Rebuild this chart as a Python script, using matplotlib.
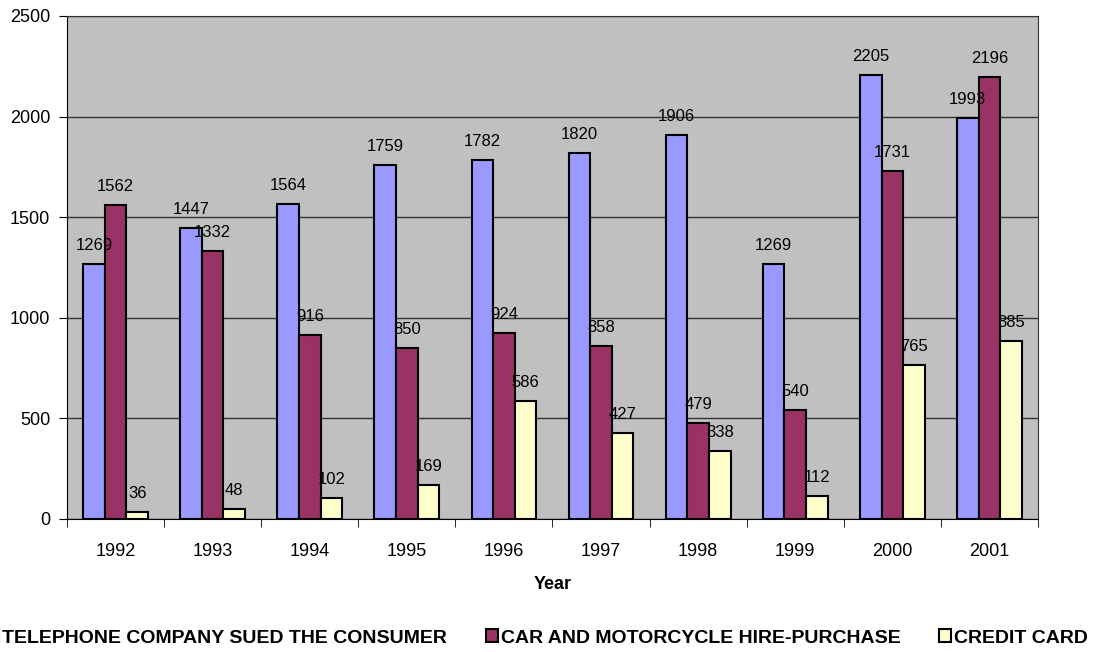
import matplotlib.pyplot as plt
import numpy as np

plt.rcParams['font.family'] = ['Liberation Sans', 'DejaVu Sans']

years = ['1992', '1993', '1994', '1995', '1996', '1997', '1998', '1999', '2000', '2001']
telefono = [1269, 1447, 1564, 1759, 1782, 1820, 1906, 1269, 2205, 1993]
auto_moto = [1562, 1332, 916, 850, 924, 858, 479, 540, 1731, 2196]
tarjeta = [36, 48, 102, 169, 586, 427, 338, 112, 765, 885]

series = [
    ('TELEPHONE COMPANY SUED THE CONSUMER', telefono, '#9999FF'),
    ('CAR AND MOTORCYCLE HIRE-PURCHASE', auto_moto, '#993366'),
    ('CREDIT CARD', tarjeta, '#FFFFCC'),
]

fig = plt.figure(figsize=(11.04, 6.52), dpi=100)
ax = fig.add_axes([0.0607, 0.204, 0.8795, 0.7715])
ax.set_facecolor('#C0C0C0')

x = np.arange(len(years))
w = 1 / 4.5

bars = []
for i, (nombre, vals, color) in enumerate(series):
    pos = x + (i - 1) * w
    b = ax.bar(pos, vals, w, color=color, edgecolor='black', linewidth=1.5,
               label=nombre, zorder=3)
    bars.append(b)
    # etiquetas encima de cada barra
    for px, v in zip(pos, vals):
        ax.text(px, v + 55, str(v), ha='center', va='bottom', fontsize=12, zorder=4)

ax.set_xlim(-0.5, len(years) - 0.5)
ax.set_ylim(0, 2500)
ax.set_yticks(range(0, 2501, 500))
ax.yaxis.grid(True, color='#333333', linewidth=1, zorder=1)
ax.set_xticks(x)
ax.set_xticklabels(years, fontsize=13)
ax.set_xticks(np.arange(-0.5, len(years)), minor=True)
ax.tick_params(axis='x', which='major', length=0, pad=17)
ax.tick_params(axis='x', which='minor', length=6, direction='out', color='black')
ax.tick_params(axis='y', labelsize=13, length=6, direction='out', pad=6)
for s in ax.spines.values():
    s.set_color('#333333')
ax.spines['left'].set_color('black')
ax.spines['bottom'].set_color('black')
ax.set_xlabel('Year', fontsize=13, fontweight='bold', labelpad=12)

fig.legend(handles=bars, loc='center left', bbox_to_anchor=(-0.0115, 0.0215),
           ncol=3, frameon=False, prop={'weight': 'bold', 'size': 14},
           handlelength=0.62, handleheight=0.65, handletextpad=0.15,
           columnspacing=1.98, borderaxespad=0, borderpad=0)

fig.savefig('out.png', dpi=100)
